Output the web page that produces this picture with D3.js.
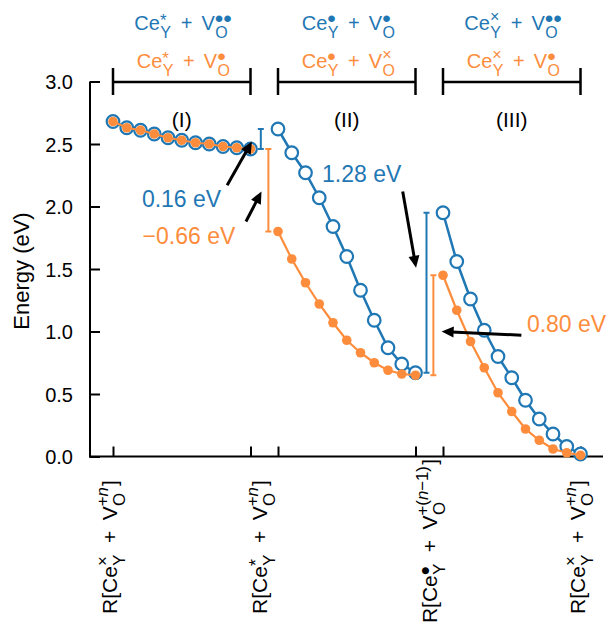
<!DOCTYPE html>
<html><head><meta charset="utf-8">
<script src="https://cdn.jsdelivr.net/npm/d3@7"></script>
<style>
body{margin:0;background:#fff}
svg{display:block}
text{font-family:"Liberation Sans",Arial,Helvetica,sans-serif}
</style>
</head><body>
<svg id="chart" width="610" height="627"></svg>
<script>
// ---------------- data ----------------
const sectionNames = ["(I)", "(II)", "(III)"];
const blueI   = [2.68, 2.63, 2.61, 2.58, 2.55, 2.53, 2.51, 2.50, 2.48, 2.47, 2.46];
const blueII  = [2.62, 2.43, 2.27, 2.07, 1.84, 1.60, 1.33, 1.09, 0.87, 0.74, 0.67];
const blueIII = [1.95, 1.56, 1.26, 1.01, 0.80, 0.63, 0.45, 0.30, 0.18, 0.08, 0.02];
const orangeI   = [2.68, 2.63, 2.61, 2.58, 2.55, 2.53, 2.51, 2.50, 2.48, 2.47, 2.46];
const orangeII  = [1.80, 1.58, 1.39, 1.22, 1.07, 0.93, 0.83, 0.75, 0.69, 0.66, 0.65];
const orangeIII = [1.45, 1.17, 0.92, 0.71, 0.51, 0.36, 0.22, 0.13, 0.06, 0.03, 0.01];
const yTicks = [0, 0.5, 1.0, 1.5, 2.0, 2.5, 3.0];
const xTicks = [0, 10, 12, 22, 24, 34];
const xLabelTicks = [0, 10, 22, 34];
const xLabels = [
  ["R[Ce", {sub: "Y", sup: "×"}, "+", "V", {sub: "O", sup: [["+"], ["n", 1]]}, "]"],
  ["R[Ce", {sub: "Y", sup: "*"}, "+", "V", {sub: "O", sup: [["+"], ["n", 1]]}, "]"],
  ["R[Ce", {sub: "Y", sup: "•"}, "+", "V", {sub: "O", sup: [["+("], ["n", 1], ["−1)"]]}, "]"],
  ["R[Ce", {sub: "Y", sup: "×"}, "+", "V", {sub: "O", sup: [["+"], ["n", 1]]}, "]"]
];
const topBlue = [
  ["Ce", {sub: "Y", sup: "*"}, "+", "V", {sub: "O", sup: "••"}],
  ["Ce", {sub: "Y", sup: "•"}, "+", "V", {sub: "O", sup: "•"}],
  ["Ce", {sub: "Y", sup: "×"}, "+", "V", {sub: "O", sup: "••"}]
];
const topOrange = [
  ["Ce", {sub: "Y", sup: "*"}, "+", "V", {sub: "O", sup: "•"}],
  ["Ce", {sub: "Y", sup: "•"}, "+", "V", {sub: "O", sup: "×"}],
  ["Ce", {sub: "Y", sup: "×"}, "+", "V", {sub: "O", sup: "•"}]
];
// energy gaps: [series, x, from, to]
const gapBars = [
  ["blue", 10.75, 2.46, 2.62],
  ["orange", 11.3, 2.46, 1.80],
  ["blue", 22.8, 0.67, 1.95],
  ["orange", 23.3, 0.65, 1.45]
];
const gapTexts = [
  ["blue", "0.16 eV", 2.1, 2.0],
  ["orange", "−0.66 eV", 2.15, 1.70],
  ["blue", "1.28 eV", 15.2, 2.20],
  ["orange", "0.80 eV", 30.1, 1.00]
];
// arrows: [x0, y0, x1, y1] in data units
const arrows = [
  [8.3, 2.17, 10.1, 2.52],
  [9.67, 1.88, 10.8, 2.12],
  [21.07, 2.12, 22.04, 1.51],
  [29.7, 0.97, 23.9, 1.00]
];

// ---------------- layout ----------------
const colors = {blue: "#1f77b4", orange: "#fd8d3c"};
const svg = d3.select("#chart");
const x = d3.scaleLinear().domain([0, 34]).range([113, 580.5]);
const y = d3.scaleLinear().domain([0, 3]).range([456.5, 81.5]);
const axisLeftX = 90, axisRightX = 603;
const sectionStart = s => s * 12, sectionEnd = s => s * 12 + 10;

// measuring helper
const tmp = svg.append("text").attr("visibility", "hidden");
function measure(str, size, italic) {
  tmp.attr("font-size", size).attr("font-style", italic ? "italic" : "normal").text(str);
  return tmp.node().getComputedTextLength();
}
function toRuns(spec) { return typeof spec === "string" ? [[spec]] : spec; }

// math label: one <text>, tspans placed by measured widths
function mathLabel(parent, pieces, size, color, opGap, scale) {
  const items = [];
  let cx = 0;
  const small = size * scale;
  function place(spec, x0, yy, sz) {
    let xx = x0;
    toRuns(spec).forEach(r => {
      items.push({t: r[0], x: xx, y: yy, size: sz, it: !!r[1]});
      xx += measure(r[0], sz, r[1]);
    });
    return xx - x0;
  }
  pieces.forEach(p => {
    if (typeof p === "string") {
      if (p === "+") cx += size * opGap;
      cx += place(p, cx, 0, size);
      if (p === "+") cx += size * opGap;
    } else {
      let w = place(p.sub, cx + size * 0.02, size * 0.4, small);
      let supSize = small, supDy = -size * 0.45;
      if (p.sup === "•" || p.sup === "••") { supSize = size * 1.22; supDy = -size * 0.16; }
      if (p.sup === "×") { supSize = size * 0.8; supDy = -size * 0.42; }
      if (p.sup === "*") { supSize = size * 0.85; supDy = -size * 0.22; }
      w = Math.max(w, place(p.sup, cx, supDy, supSize));
      cx += w + size * 0.06;
    }
  });
  const t = parent.append("text").attr("fill", color).attr("font-size", size);
  items.forEach(d => t.append("tspan").attr("x", d.x).attr("y", d.y)
    .attr("font-size", d.size).attr("font-style", d.it ? "italic" : "normal").text(d.t));
  return {t, width: cx};
}

// axes
const gy = svg.append("g").attr("transform", `translate(${axisLeftX},0)`)
  .call(d3.axisLeft(y).tickValues(yTicks).tickFormat(d3.format(".1f"))
    .tickSizeInner(-10).tickSizeOuter(0).tickPadding(17));
gy.select(".domain").remove();
gy.selectAll(".tick line").attr("stroke", "#000").attr("stroke-width", 2);
gy.selectAll(".tick text").attr("font-size", 20).attr("fill", "#000")
  .attr("font-family", "Liberation Sans, Arial, sans-serif").attr("dy", "0.36em");

const gx = svg.append("g").attr("transform", `translate(0,${y(0)})`)
  .call(d3.axisBottom(x).tickValues(xTicks).tickFormat("").tickSizeInner(-10).tickSizeOuter(0));
gx.select(".domain").remove();
gx.selectAll(".tick line").attr("stroke", "#000").attr("stroke-width", 2);

svg.append("line").attr("x1", axisLeftX).attr("x2", axisLeftX).attr("y1", y(3)).attr("y2", y(0) + 1)
  .attr("stroke", "#000").attr("stroke-width", 2);
svg.append("line").attr("x1", axisLeftX - 1).attr("x2", axisRightX).attr("y1", y(0)).attr("y2", y(0))
  .attr("stroke", "#000").attr("stroke-width", 2);

// y label
svg.append("text").attr("transform", `translate(29,${(y(0) + y(3)) / 2 + 2}) rotate(-90)`)
  .attr("text-anchor", "middle").attr("font-size", 22).attr("fill", "#000").text("Energy (eV)");

// x labels (rotated)
const xLabelOffsets = [4, 16.5, 21.5, 4.5];
const xLabelCenters = [547, 547, 541, 547];
xLabels.forEach((pieces, i) => {
  const holder = svg.append("g");
  const m = mathLabel(holder, pieces, 21, "#000", 0.5, 0.8);
  m.t.attr("transform", `translate(${-m.width / 2},0)`);
  const cy = Math.min(xLabelCenters[i], 624 - m.width / 2);
  holder.attr("transform", `translate(${x(xLabelTicks[i]) + xLabelOffsets[i]},${cy}) rotate(-90)`);
});

// brackets and top labels
[0, 1, 2].forEach(s => {
  const x0 = x(sectionStart(s)), x1 = x(sectionEnd(s)), xc = (x0 + x1) / 2;
  const br = svg.append("g").attr("stroke", "#000").attr("stroke-width", 2.5);
  br.append("line").attr("x1", x0).attr("x2", x1).attr("y1", 82).attr("y2", 82);
  br.append("line").attr("x1", x0).attr("x2", x0).attr("y1", 68).attr("y2", 95);
  br.append("line").attr("x1", x1).attr("x2", x1).attr("y1", 68).attr("y2", 95);
  [[topBlue[s], "blue", 30], [topOrange[s], "orange", 68]].forEach(([pieces, c, by]) => {
    const holder = svg.append("g");
    const m = mathLabel(holder, pieces, 20, colors[c], 0.45, 0.8);
    holder.attr("transform", `translate(${xc - m.width / 2 + 2},${by})`);
  });
  svg.append("text").attr("x", xc).attr("y", 127).attr("text-anchor", "middle")
    .attr("font-size", 21).attr("fill", "#000").text(sectionNames[s]);
});

// series
const blueSeries = [blueI, blueII, blueIII];
const orangeSeries = [orangeI, orangeII, orangeIII];
const line = d3.line().x(d => x(d[0])).y(d => y(d[1]));
function pts(vals, s) { return vals.map((v, i) => [sectionStart(s) + i, v]); }

blueSeries.forEach((vals, s) => {
  const p = pts(vals, s);
  svg.append("path").attr("d", line(p)).attr("fill", "none").attr("stroke", colors.blue).attr("stroke-width", 2.5);
  svg.append("g").selectAll("circle").data(p).join("circle")
    .attr("cx", d => x(d[0])).attr("cy", d => y(d[1])).attr("r", 6.3)
    .attr("fill", "#fff").attr("stroke", colors.blue).attr("stroke-width", 2.2);
});
orangeSeries.forEach((vals, s) => {
  const p = pts(vals, s);
  svg.append("path").attr("d", line(p)).attr("fill", "none").attr("stroke", colors.orange).attr("stroke-width", 2.2);
  svg.append("g").selectAll("circle").data(p).join("circle")
    .attr("cx", d => x(d[0])).attr("cy", d => y(d[1])).attr("r", 4.8)
    .attr("fill", colors.orange);
});

// gap bars
gapBars.forEach(([c, gx0, a, b]) => {
  const g = svg.append("g").attr("stroke", colors[c]).attr("stroke-width", 2);
  const xx = x(gx0);
  g.append("line").attr("x1", xx).attr("x2", xx).attr("y1", y(a)).attr("y2", y(b));
  [a, b].forEach(v => g.append("line").attr("x1", xx - 3).attr("x2", xx + 3).attr("y1", y(v)).attr("y2", y(v)));
});

// gap texts
gapTexts.forEach(([c, txt, tx, ty]) => {
  svg.append("text").attr("x", x(tx)).attr("y", y(ty)).attr("font-size", 23)
    .attr("fill", colors[c]).text(txt);
});

// arrows
arrows.forEach(([ax0, ay0, ax1, ay1]) => {
  const X0 = x(ax0), Y0 = y(ay0), X1 = x(ax1), Y1 = y(ay1);
  const dx = X1 - X0, dy = Y1 - Y0, L = Math.hypot(dx, dy);
  const ux = dx / L, uy = dy / L, head = 12, hw = 5.5;
  const bx = X1 - ux * head, by = Y1 - uy * head;
  svg.append("line").attr("x1", X0).attr("y1", Y0).attr("x2", bx + ux * 2).attr("y2", by + uy * 2)
    .attr("stroke", "#000").attr("stroke-width", 3);
  svg.append("path").attr("d", `M${X1},${Y1}L${bx - uy * hw},${by + ux * hw}L${bx + uy * hw},${by - ux * hw}Z`)
    .attr("fill", "#000");
});
tmp.remove();
</script>
</body></html>
